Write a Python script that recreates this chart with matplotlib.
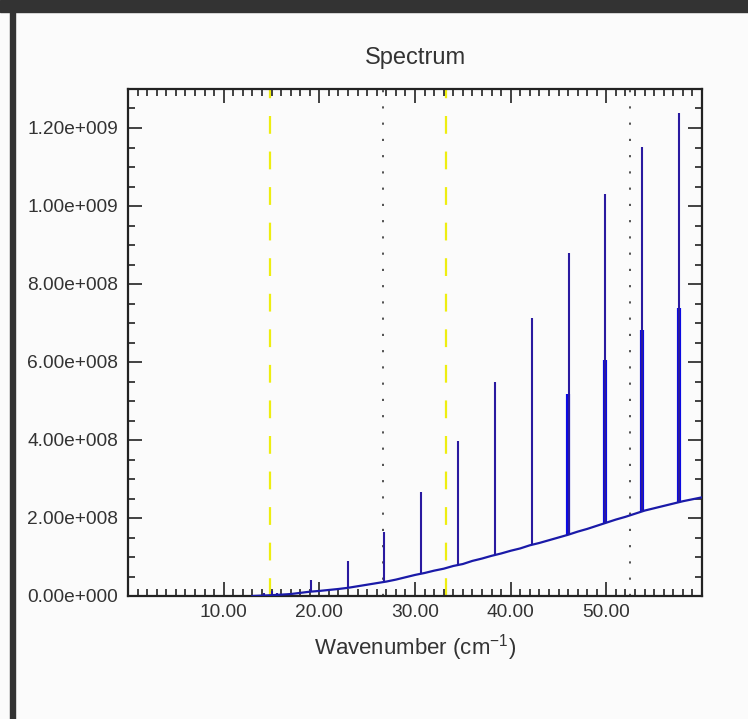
import numpy as np
import matplotlib
matplotlib.use("Agg")
import matplotlib.pyplot as plt
from matplotlib.ticker import FuncFormatter, MultipleLocator
from matplotlib.patches import Rectangle

plt.rcParams['font.family'] = ['Liberation Sans', 'DejaVu Sans']

# baseline (continuum) of the spectrum
base_x = [13, 14, 15, 16, 17, 18, 19, 20, 21, 22, 23, 24, 25, 26, 27, 28, 29, 30,
          31, 32, 33, 34, 35, 36, 37, 38, 39, 40, 41, 42, 43, 44, 45, 46, 47, 48,
          49, 50, 51, 52, 53, 54, 55, 56, 57, 58, 59, 60]
base_y = [0.0e8, 0.01e8, 0.02e8, 0.035e8, 0.05e8, 0.08e8, 0.11e8, 0.13e8, 0.155e8,
          0.18e8, 0.21e8, 0.25e8, 0.29e8, 0.33e8, 0.37e8, 0.42e8, 0.48e8, 0.54e8,
          0.59e8, 0.65e8, 0.70e8, 0.77e8, 0.82e8, 0.90e8, 0.96e8, 1.03e8, 1.09e8,
          1.16e8, 1.22e8, 1.30e8, 1.36e8, 1.43e8, 1.50e8, 1.57e8, 1.65e8, 1.72e8,
          1.80e8, 1.88e8, 1.96e8, 2.03e8, 2.11e8, 2.19e8, 2.25e8, 2.31e8, 2.37e8,
          2.43e8, 2.48e8, 2.53e8]

# line peaks
peak_x = [14.2, 15.0, 15.6, 19.1, 22.95, 26.8, 30.65, 34.5, 38.35, 42.2, 46.05, 49.9, 53.75, 57.6]
peak_y = [0.08e8, 0.12e8, 0.07e8, 0.41e8, 0.90e8, 1.65e8, 2.67e8, 3.98e8, 5.49e8,
          7.13e8, 8.80e8, 10.30e8, 11.52e8, 12.39e8]

# weaker companion lines
comp_x = [46.0, 49.85, 53.7, 57.55]
comp_y = [5.18e8, 6.05e8, 6.82e8, 7.38e8]

# marker lines
yellow_x = [14.8, 33.25]
dotted_x = [26.7, 52.45]


def sci_fmt(v, pos):
    if v == 0:
        return "0.00e+000"
    e = int(np.floor(np.log10(abs(v))))
    m = v / 10 ** e
    return "%.2fe%+04d" % (m, e)


fig = plt.figure(figsize=(7.48, 7.19), dpi=100)
fig.patch.set_facecolor('#fbfbfb')
ax = fig.add_axes([128 / 748, 1 - 596 / 719, 574 / 748, 507 / 719])
ax.set_facecolor('#fbfbfb')

for xv in yellow_x:
    ax.axvline(xv, color='#eeee10', lw=1.6, dashes=(8, 8), zorder=1)
for xv in dotted_x:
    ax.axvline(xv, color='#444444', lw=1.3, dashes=(1.2, 7.8), zorder=1)

b_peak = np.interp(peak_x, base_x, base_y)
b_comp = np.interp(comp_x, base_x, base_y)
ax.vlines(comp_x, b_comp, comp_y, color='#0a0ae6', lw=3, zorder=3)
ax.vlines(peak_x, b_peak, peak_y, color='#2a1aa0', lw=1.5, zorder=4)
ax.plot(base_x, base_y, color='#1a1aa8', lw=1.6, zorder=5)

ax.set_xlim(0, 60)
ax.set_ylim(0, 1.3e9)
ax.set_xticks([10, 20, 30, 40, 50])
ax.xaxis.set_minor_locator(MultipleLocator(1))
ax.yaxis.set_major_locator(MultipleLocator(2e8))
ax.yaxis.set_minor_locator(MultipleLocator(5e7))
ax.xaxis.set_major_formatter(FuncFormatter(lambda v, p: "%.2f" % v))
ax.yaxis.set_major_formatter(FuncFormatter(sci_fmt))

ax.tick_params(which='both', direction='in', top=True, right=True, color='#222222', width=1.2)
ax.tick_params(which='major', length=10, labelsize=13.8, labelcolor='#333333')
ax.tick_params(which='minor', length=5)
ax.tick_params(axis='y', pad=7)
ax.tick_params(axis='x', pad=6)
for s in ax.spines.values():
    s.set_linewidth(1.6)
    s.set_color('#222222')

ax.set_title("Spectrum", fontsize=17, color='#333333', pad=18)
ax.set_xlabel("Wavenumber (cm$^{\\mathregular{-1}}$)", fontsize=16, color='#333333', labelpad=8)

# window frame
fig.patches.append(Rectangle((0, 1 - 12 / 719), 1, 12 / 719, transform=fig.transFigure,
                             color='#333333', zorder=10))
fig.patches.append(Rectangle((10 / 748, 0), 5 / 748, 1, transform=fig.transFigure,
                             color='#333333', zorder=10))

fig.savefig("out.png", dpi=100, facecolor=fig.get_facecolor())
